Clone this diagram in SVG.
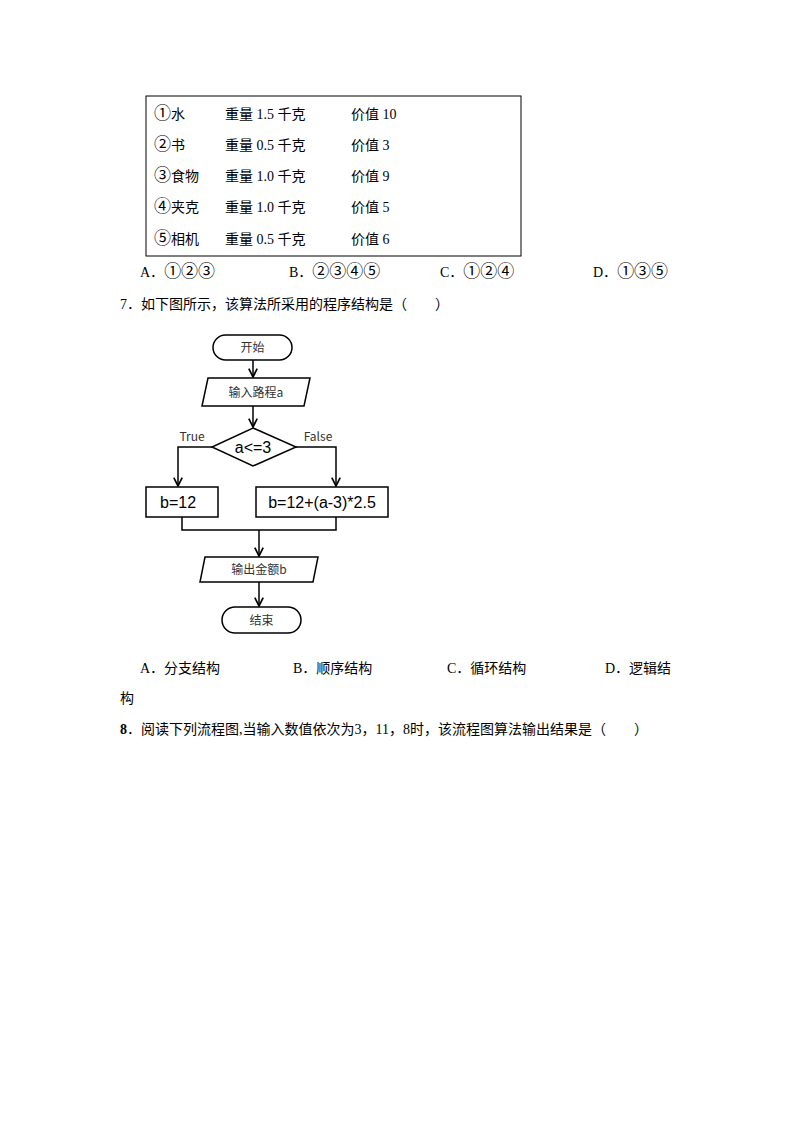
<svg xmlns="http://www.w3.org/2000/svg" width="794" height="1123" viewBox="0 0 794 1123">
<style>
.t{font-family:"Liberation Serif","Noto Sans CJK SC",serif;font-size:14px;fill:#000}
.n{font-size:17px}
.f{font-family:"Noto Sans CJK SC","Noto Sans",sans-serif;font-size:12px;fill:#333}
.c{font-family:"Liberation Sans","Noto Sans CJK SC",sans-serif;font-size:16px;fill:#000}
.s{fill:#fff;stroke:#000;stroke-width:1.5}
.l{fill:none;stroke:#000;stroke-width:1.5}
</style>
<defs><marker id="a" viewBox="0 0 10 10" refX="9" refY="5" markerWidth="7" markerHeight="7" orient="auto"><path d="M1,1 L9,5 L1,9" fill="none" stroke="#000" stroke-width="1.6"/></marker></defs>
<rect x="146" y="96" width="375" height="160" fill="none" stroke="#000" stroke-width="1"/>
<g class="t">
<text x="154" y="119"><tspan class="n">①</tspan>水</text><text x="225" y="119">重量 1.5 千克</text><text x="351" y="119">价值 10</text>
<text x="154" y="150"><tspan class="n">②</tspan>书</text><text x="225" y="150">重量 0.5 千克</text><text x="351" y="150">价值 3</text>
<text x="154" y="181"><tspan class="n">③</tspan>食物</text><text x="225" y="181">重量 1.0 千克</text><text x="351" y="181">价值 9</text>
<text x="154" y="212"><tspan class="n">④</tspan>夹克</text><text x="225" y="212">重量 1.0 千克</text><text x="351" y="212">价值 5</text>
<text x="154" y="244"><tspan class="n">⑤</tspan>相机</text><text x="225" y="244">重量 0.5 千克</text><text x="351" y="244">价值 6</text>
<text x="140" y="277">A．<tspan class="n">①②③</tspan></text><text x="289" y="277">B．<tspan class="n">②③④⑤</tspan></text><text x="440" y="277">C．<tspan class="n">①②④</tspan></text><text x="593" y="277">D．<tspan class="n">①③⑤</tspan></text>
<text x="120" y="309">7．如下图所示，该算法所采用的程序结构是（　　）</text>
<text x="140" y="673">A．分支结构</text><text x="293" y="673">B．顺序结构</text><text x="447" y="673">C．循环结构</text><text x="605" y="673">D．逻辑结</text>
<text x="120" y="703">构</text>
<text x="120" y="734"><tspan font-weight="bold">8</tspan>．阅读下列流程图,当输入数值依次为3，11，8时，该流程图算法输出结果是（　　）</text>
</g>
<g id="connectors">
<path class="l" d="M253,360 V377" marker-end="url(#a)"/>
<path class="l" d="M253,406 V427" marker-end="url(#a)"/>
<path class="l" d="M212,447 H178 V486" marker-end="url(#a)"/>
<path class="l" d="M296,447 H336 V486" marker-end="url(#a)"/>
<path class="l" d="M182,517 V530 H336 V517"/>
<path class="l" d="M259,530 V556" marker-end="url(#a)" stroke-width="2"/>
<path class="l" d="M259,582 V606" marker-end="url(#a)" stroke-width="2"/>
</g>
<g id="start"><rect class="s" x="213" y="335" width="79" height="25" rx="12.5"/><text class="f" x="252.5" y="352" text-anchor="middle">开始</text></g>
<g id="input"><path class="s" d="M208,378 H310 L304,406 H202 Z"/><text class="f" x="256" y="397" text-anchor="middle">输入路程a</text></g>
<g id="decision"><path class="s" d="M253,428 L296,447 L253,466 L212,447 Z"/><text class="c" x="253" y="453" text-anchor="middle" fill="#333" font-size="17">a&lt;=3</text>
<text class="f" x="192" y="441" text-anchor="middle" fill="#000">True</text><text class="f" x="318" y="441" text-anchor="middle" fill="#000">False</text></g>
<g id="b12"><rect class="s" x="146" y="487" width="72" height="30"/><text class="c" x="160" y="508">b=12</text></g>
<g id="b2"><rect class="s" x="256" y="487" width="132" height="30"/><text class="c" x="322" y="508" text-anchor="middle" font-size="15">b=12+(a-3)*2.5</text></g>
<g id="output"><path class="s" d="M205,557 H318 L313,582 H200 Z"/><text class="f" x="259" y="574" text-anchor="middle">输出金额b</text></g>
<g id="end"><rect class="s" x="222" y="607" width="79" height="26" rx="13"/><text class="f" x="261.5" y="625" text-anchor="middle">结束</text></g>
</svg>
